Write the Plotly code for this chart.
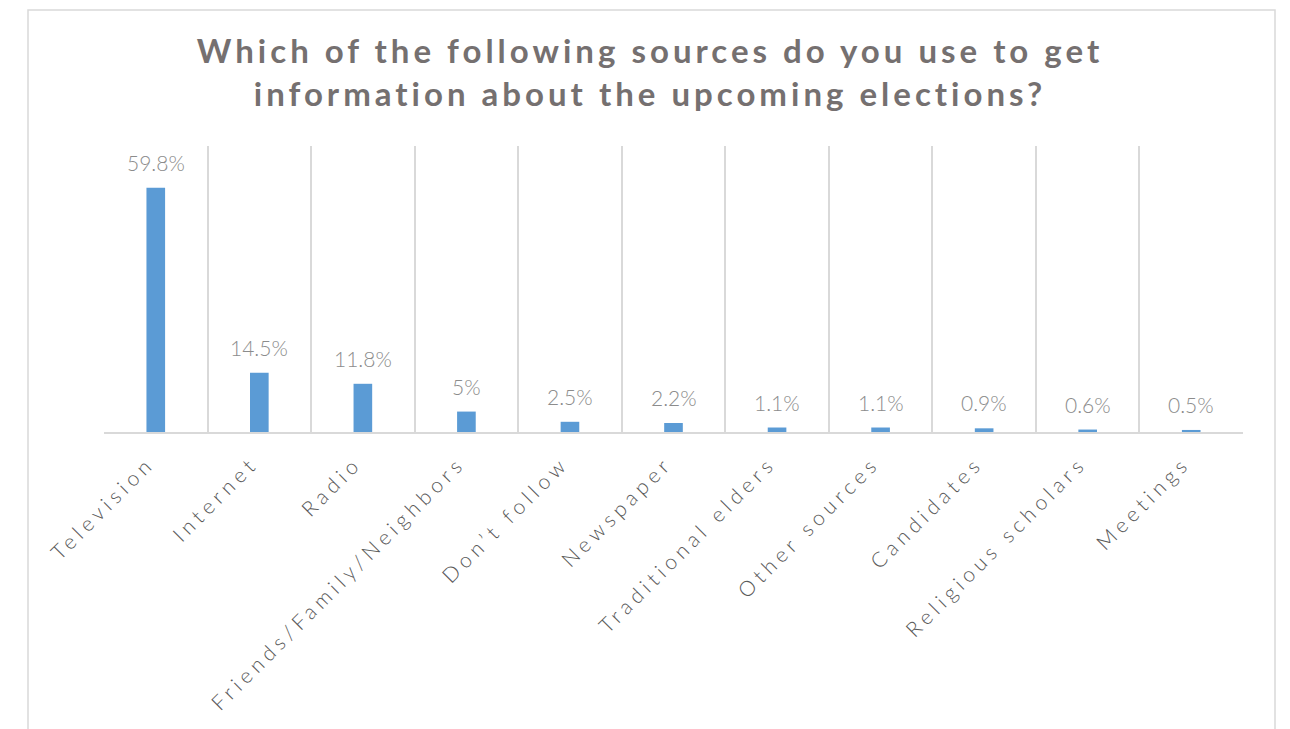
import plotly.graph_objects as go

# Survey responses: share of respondents naming each information source
categories = [
    "Television", "Internet", "Radio", "Friends/Family/Neighbors",
    "Don\u2019t follow", "Newspaper", "Traditional elders", "Other sources",
    "Candidates", "Religious scholars", "Meetings",
]
shares = [59.8, 14.5, 11.8, 5, 2.5, 2.2, 1.1, 1.1, 0.9, 0.6, 0.5]
share_labels = ["59.8%", "14.5%", "11.8%", "5%", "2.5%", "2.2%",
                "1.1%", "1.1%", "0.9%", "0.6%", "0.5%"]

title_text = ("Which of the following sources do you use to get<br>"
              "information about the upcoming elections?")

W, H = 1290, 729
L, R, T, B = 104, 47, 146, 297
grid_col = "#d9d9d9"

fig = go.Figure(
    go.Bar(
        x=categories,
        y=shares,
        width=0.18,
        marker=dict(color="#5b9bd5", line=dict(width=0)),
        hoverinfo="skip",
    )
)

# value labels above each bar
for cat, val, lab in zip(categories, shares, share_labels):
    fig.add_annotation(
        x=cat, y=val, text=lab, showarrow=False,
        yanchor="bottom", yshift=11,
        font=dict(family="Lato", size=21, color="#8c8c8c", weight=300),
    )

# outer chart frame
pw, ph = W - L - R, H - T - B
fig.add_shape(
    type="rect", xref="paper", yref="paper",
    x0=(28 - L) / pw, x1=(1275 - L) / pw,
    y0=-(760 - (H - B)) / ph, y1=(H - B - 10) / ph,
    line=dict(color=grid_col, width=1.5), fillcolor="rgba(0,0,0,0)",
    layer="below",
)

fig.update_layout(
    width=W, height=H,
    margin=dict(l=L, r=R, t=T, b=B),
    paper_bgcolor="white", plot_bgcolor="white",
    showlegend=False,
    title=dict(
        text=title_text, x=650 / W, xref="container", xanchor="center",
        y=1 - 63 / H, yref="container", yanchor="top",
        font=dict(family="Lato", size=33, color="#757070", weight="bold"),
    ),
    xaxis=dict(
        type="category", tickson="boundaries", showgrid=True,
        gridcolor=grid_col, gridwidth=1.5,
        showline=True, linecolor=grid_col, linewidth=2,
        ticks="", tickangle=-45,
        tickfont=dict(family="Lato", size=21, color="#595959", weight=300),
        ticklabelstandoff=10,
    ),
    yaxis=dict(
        range=[0, 70], showgrid=False, zeroline=False,
        showticklabels=False, showline=False, ticks="",
    ),
    bargap=0.8,
)

# letter-spaced title and category labels; nudge the rotated labels so
# their ends sit under the category centres
letter_spacing_js = """
document.querySelectorAll('.gtitle').forEach(function(e){e.style.letterSpacing='4px';});
document.querySelectorAll('.xtick text').forEach(function(e){e.style.letterSpacing='4.8px';});
document.querySelectorAll('.xaxislayer-above').forEach(function(e){e.setAttribute('transform','translate(-7,-1)');});
"""

fig.write_html("out.html", post_script=letter_spacing_js)
